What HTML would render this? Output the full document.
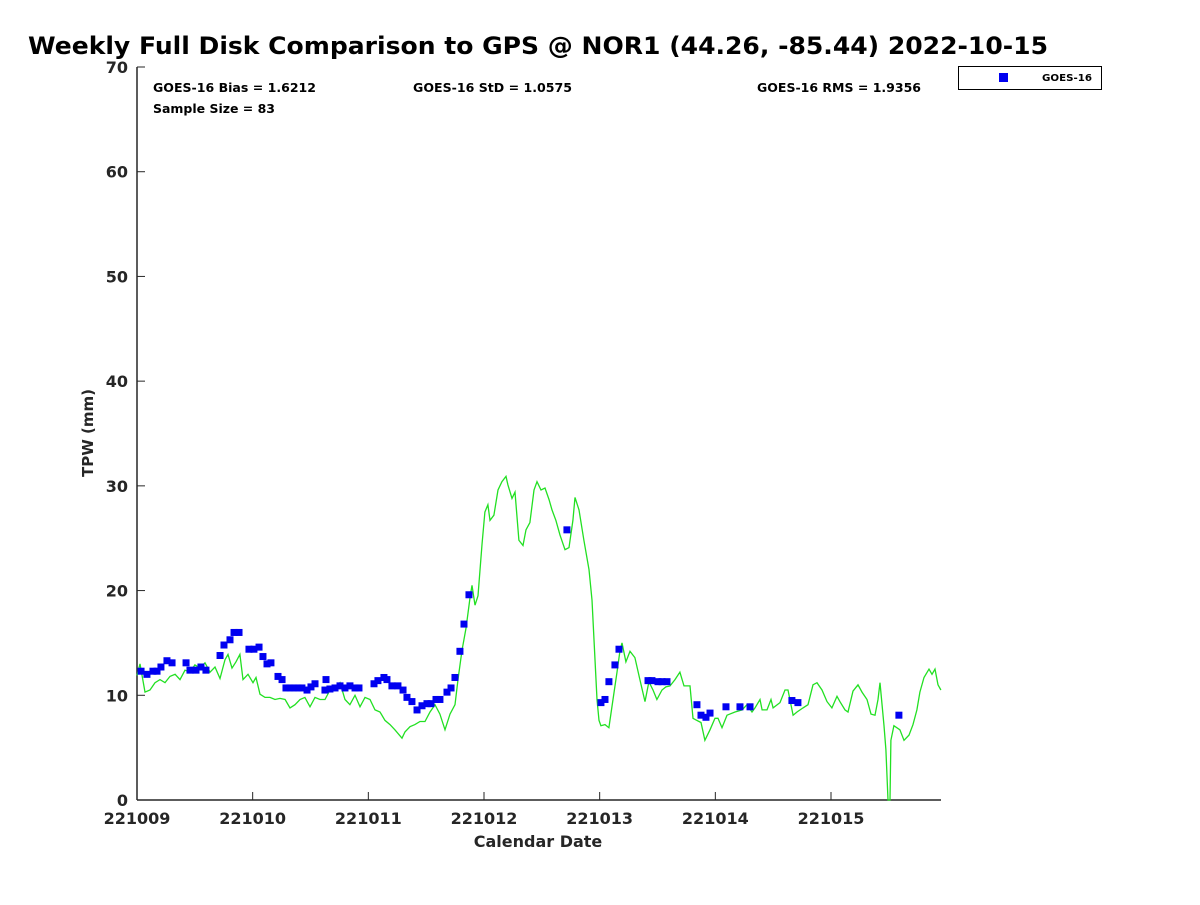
<!DOCTYPE html>
<html><head><meta charset="utf-8"><style>
body{margin:0;background:#fff;}
svg{font-family:"DejaVu Sans","Liberation Sans",sans-serif;}
</style></head><body>
<svg id="c" width="1200" height="900" xmlns="http://www.w3.org/2000/svg">
<text x="28" y="54" font-size="24" font-weight="bold" fill="#000" textLength="1020" lengthAdjust="spacingAndGlyphs">Weekly Full Disk Comparison to GPS @ NOR1 (44.26, -85.44) 2022-10-15</text>
<g id="axes"></g>
<text x="153" y="92" font-size="12" font-weight="bold" textLength="163" lengthAdjust="spacingAndGlyphs">GOES-16 Bias = 1.6212</text>
<text x="153" y="113" font-size="12" font-weight="bold" textLength="122" lengthAdjust="spacingAndGlyphs">Sample Size = 83</text>
<text x="413" y="92" font-size="12" font-weight="bold" textLength="159" lengthAdjust="spacingAndGlyphs">GOES-16 StD = 1.0575</text>
<text x="757" y="92" font-size="12" font-weight="bold" textLength="164" lengthAdjust="spacingAndGlyphs">GOES-16 RMS = 1.9356</text>
<g>
<rect x="958.5" y="66.5" width="143" height="23" fill="#fff" stroke="#000" stroke-width="1"/>
<rect x="999" y="73" width="9" height="9" fill="#0000f0"/>
<text x="1042" y="81" font-size="10" font-weight="bold" textLength="50" lengthAdjust="spacingAndGlyphs">GOES-16</text>
</g>
<text x="538" y="847" font-size="16" font-weight="bold" text-anchor="middle" fill="#262626">Calendar Date</text>
<text transform="translate(93,433) rotate(-90)" font-size="15" font-weight="bold" text-anchor="middle" fill="#262626">TPW (mm)</text>
</svg>
<script>
const xTickLabels=["221009","221010","221011","221012","221013","221014","221015"];
const yTicks=[0,10,20,30,40,50,60,70];
const gpsDays=[0,0.026,0.069,0.112,0.156,0.199,0.242,0.285,0.329,0.372,0.415,0.458,0.501,0.545,0.588,0.631,0.674,0.718,0.761,0.787,0.821,0.856,0.890,0.916,0.960,1.003,1.029,1.063,1.107,1.150,1.193,1.236,1.280,1.323,1.366,1.409,1.452,1.496,1.539,1.582,1.625,1.669,1.712,1.755,1.798,1.841,1.885,1.928,1.971,2.014,2.058,2.101,2.144,2.187,2.230,2.291,2.317,2.360,2.403,2.447,2.490,2.533,2.576,2.619,2.663,2.706,2.749,2.775,2.810,2.844,2.879,2.896,2.922,2.948,2.983,3.008,3.034,3.052,3.086,3.121,3.155,3.190,3.207,3.242,3.268,3.302,3.337,3.363,3.397,3.432,3.458,3.493,3.527,3.562,3.588,3.622,3.657,3.700,3.735,3.769,3.787,3.821,3.864,3.908,3.934,3.951,3.977,3.994,4.011,4.046,4.080,4.115,4.150,4.175,4.193,4.227,4.262,4.305,4.348,4.392,4.426,4.461,4.495,4.539,4.573,4.608,4.651,4.694,4.729,4.781,4.807,4.841,4.876,4.910,4.954,4.997,5.023,5.058,5.101,5.170,5.231,5.274,5.317,5.343,5.386,5.404,5.447,5.481,5.499,5.559,5.602,5.628,5.672,5.706,5.758,5.801,5.844,5.879,5.922,5.965,6.008,6.052,6.077,6.121,6.147,6.190,6.233,6.268,6.311,6.346,6.380,6.406,6.424,6.458,6.475,6.493,6.510,6.518,6.544,6.596,6.631,6.674,6.709,6.743,6.769,6.804,6.847,6.873,6.899,6.925,6.950];
const gpsTPW=[11.9,13.0,10.3,10.5,11.2,11.5,11.2,11.8,12.0,11.5,12.4,12.2,12.9,12.6,13.1,12.2,12.7,11.6,13.4,13.9,12.6,13.2,13.9,11.5,12.0,11.2,11.7,10.1,9.8,9.8,9.6,9.7,9.6,8.8,9.1,9.6,9.8,8.9,9.8,9.6,9.6,10.5,10.7,11.2,9.6,9.1,10.0,8.9,9.8,9.6,8.6,8.4,7.6,7.2,6.7,5.9,6.5,7.0,7.2,7.5,7.5,8.4,9.1,8.2,6.7,8.2,9.1,11.5,14.3,16.4,19.3,20.5,18.6,19.5,24.4,27.5,28.2,26.7,27.2,29.6,30.4,30.9,30.1,28.8,29.4,24.8,24.3,25.8,26.5,29.6,30.4,29.6,29.8,28.7,27.7,26.7,25.3,23.9,24.1,26.7,28.9,27.7,24.8,22.0,19.1,15.3,9.6,7.6,7.1,7.2,6.9,9.6,12.2,14.2,15.0,13.2,14.2,13.6,11.5,9.4,11.3,10.5,9.6,10.5,10.8,10.9,11.5,12.2,10.9,10.9,7.8,7.6,7.4,5.7,6.7,7.8,7.8,6.9,8.1,8.4,8.6,9.1,8.4,8.8,9.6,8.6,8.6,9.6,8.8,9.3,10.5,10.5,8.1,8.4,8.8,9.1,11.0,11.2,10.5,9.4,8.8,9.9,9.4,8.6,8.4,10.4,11.0,10.3,9.6,8.2,8.1,9.6,11.2,7.1,4.8,0,0,5.7,7.1,6.7,5.7,6.2,7.2,8.6,10.3,11.7,12.5,12.0,12.5,11.0,10.5];
const goesDays=[0.035,0.086,0.138,0.173,0.207,0.259,0.303,0.424,0.458,0.510,0.553,0.596,0.718,0.752,0.804,0.839,0.882,0.968,1.011,1.055,1.089,1.124,1.158,1.219,1.254,1.288,1.323,1.357,1.392,1.426,1.470,1.504,1.539,1.625,1.634,1.668,1.712,1.755,1.798,1.841,1.885,1.919,2.049,2.083,2.135,2.161,2.204,2.256,2.300,2.334,2.377,2.421,2.464,2.507,2.542,2.585,2.619,2.680,2.715,2.749,2.792,2.827,2.870,3.717,4.011,4.046,4.080,4.132,4.167,4.418,4.452,4.504,4.539,4.582,4.841,4.876,4.919,4.954,5.092,5.213,5.300,5.662,5.714,6.587];
const goesTPW=[12.3,12.0,12.3,12.3,12.7,13.3,13.1,13.1,12.4,12.4,12.7,12.4,13.8,14.8,15.3,16.0,16.0,14.4,14.4,14.6,13.7,13.0,13.1,11.8,11.5,10.7,10.7,10.7,10.7,10.7,10.5,10.8,11.1,10.5,11.5,10.6,10.7,10.9,10.7,10.9,10.7,10.7,11.1,11.4,11.7,11.5,10.9,10.9,10.5,9.8,9.4,8.6,9.0,9.2,9.2,9.6,9.6,10.3,10.7,11.7,14.2,16.8,19.6,25.8,9.3,9.6,11.3,12.9,14.4,11.4,11.4,11.3,11.3,11.3,9.1,8.1,7.9,8.3,8.9,8.9,8.9,9.5,9.3,8.1];

const NS="http://www.w3.org/2000/svg";
const svg=document.getElementById('c');
const axes=document.getElementById('axes');
const X0=137,X1=941,Y0=800,Y1=67,DMAX=6.951,VMAX=70;
const sx=d=>X0+d/DMAX*(X1-X0);
const sy=v=>Y0-v/VMAX*(Y0-Y1);
function mk(tag,attrs,parent){const e=document.createElementNS(NS,tag);for(const k in attrs)e.setAttribute(k,attrs[k]);(parent||svg).appendChild(e);return e;}

const yAxis=mk('line',{x1:X0,y1:Y1,x2:X0,y2:Y0,stroke:'#262626','stroke-width':1.5},axes);


const xAxis=mk('line',{x1:X0,y1:Y0,x2:X1,y2:Y0,stroke:'#262626','stroke-width':1.5},axes);



yTicks.forEach(v=>{
  const y=sy(v);
  const t=mk('line',{x1:X0,y1:y,x2:X0+8,y2:y,stroke:'#262626','stroke-width':1},axes);
  
  
  const l=mk('text',{x:128,y:y+6,'font-size':16,'font-weight':'bold','text-anchor':'end',fill:'#262626'},axes);
  
  
  l.textContent=v;
});
xTickLabels.forEach((lab,i)=>{
  const x=sx(i);
  const t=mk('line',{x1:x,y1:Y0,x2:x,y2:Y0-8,stroke:'#262626','stroke-width':1},axes);
  
  
  const l=mk('text',{x:x,y:824,'font-size':16,'font-weight':'bold','text-anchor':'middle',fill:'#262626'},axes);
  
  
  l.textContent=lab;
});

const pts=gpsDays.map((d,i)=>sx(d).toFixed(1)+','+sy(gpsTPW[i]).toFixed(1)).join(' ');
const line=mk('polyline',{points:pts,fill:'none',stroke:'#22e022','stroke-width':1.3});



goesDays.forEach((d,i)=>{
  const r=mk('rect',{x:sx(d)-3.5,y:sy(goesTPW[i])-3.5,width:7,height:7,fill:'#0000f0'});
  
  
});
</script>
</body></html>
